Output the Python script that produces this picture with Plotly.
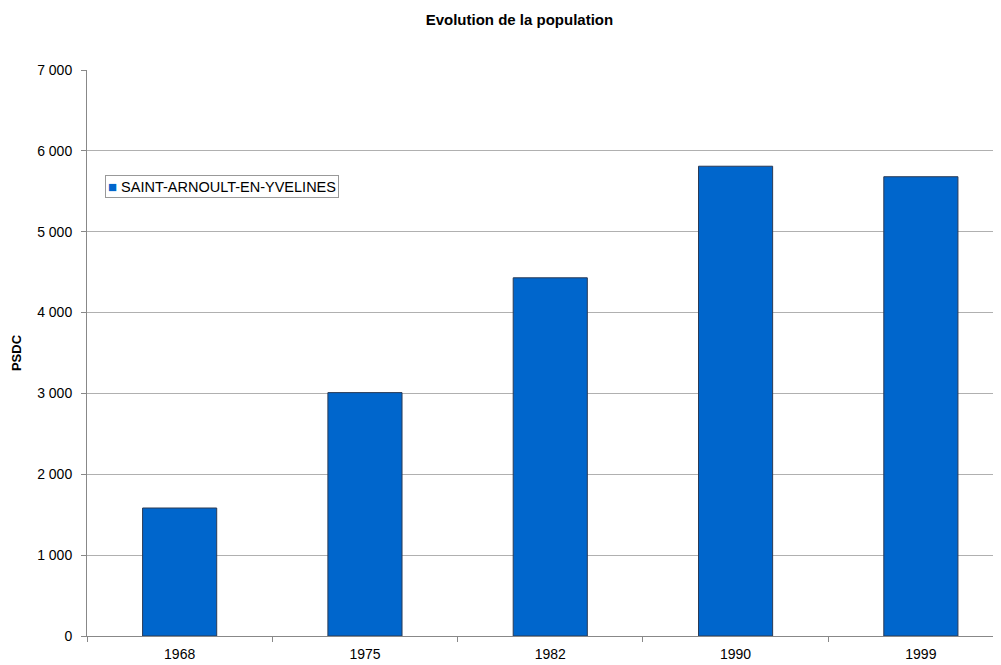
import plotly.graph_objects as go

years = ["1968", "1975", "1982", "1990", "1999"]
population = [1583, 3010, 4430, 5810, 5680]
series_name = "SAINT-ARNOULT-EN-YVELINES"
y_tick_vals = [0, 1000, 2000, 3000, 4000, 5000, 6000, 7000]
y_tick_text = ["0", "1 000", "2 000", "3 000", "4 000", "5 000", "6 000", "7 000"]
bar_color = "#0066CC"

fig = go.Figure()
fig.add_trace(go.Bar(
    x=years, y=population, name=series_name,
    width=0.4,
    marker=dict(color=bar_color, line=dict(color="#2a3a55", width=1)),
    showlegend=False,
))

font = "Liberation Sans, Arial, sans-serif"
fig.update_layout(
    width=993, height=657,
    paper_bgcolor="white", plot_bgcolor="white",
    margin=dict(l=79, r=1, t=62, b=29, autoexpand=False),
    font=dict(family=font, size=14, color="#000000"),
    title=dict(text="<b>Evolution de la population</b>", x=0.515, xanchor="center",
               y=1 - 12 / 657, yanchor="middle", font=dict(size=15, family=font)),
    showlegend=False,
    bargap=0.6,
)
fig.add_annotation(
    xref="paper", yref="paper", x=0.0197, y=0.8145, xanchor="left", yanchor="top",
    text="<span style='color:%s;font-size:15px'>■</span> %s" % (bar_color, series_name),
    showarrow=False, align="left",
    font=dict(size=14.5, family=font, color="#000000"),
    bgcolor="white", bordercolor="#999999", borderwidth=1, borderpad=2,
)
fig.update_xaxes(
    type="category", range=[-0.5, 4.427],
    tickson="boundaries", ticks="outside", ticklen=5, tickcolor="#888888",
    showline=True, linecolor="#888888", linewidth=1,
    showgrid=False, tickfont=dict(size=14, color="#000000"),
    ticklabelstandoff=5,
)
fig.update_yaxes(
    range=[0, 7000], tickvals=y_tick_vals, ticktext=y_tick_text,
    ticks="outside", ticklen=5, tickcolor="#888888",
    showline=True, linecolor="#888888", linewidth=1,
    showgrid=True, gridcolor="#b0b0b0", gridwidth=1,
    zeroline=False, automargin=False,
    ticklabelstandoff=6,
    title=dict(text="<b>PSDC</b>", standoff=12, font=dict(size=13, family=font)),
    tickfont=dict(size=14, color="#000000"),
)
fig.write_html("out.html")
